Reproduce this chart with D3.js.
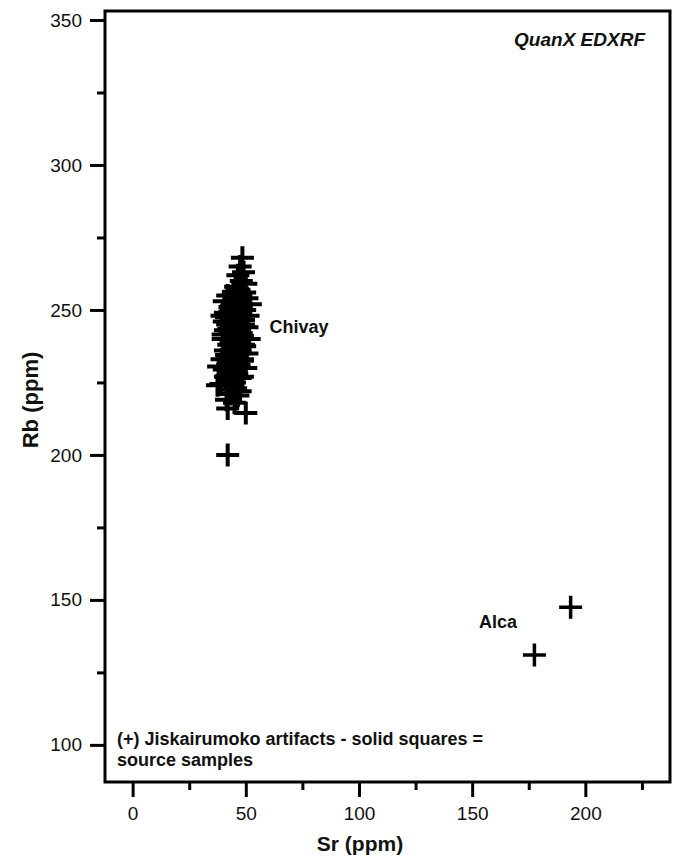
<!DOCTYPE html>
<html>
<head>
<meta charset="utf-8">
<script src="https://cdn.jsdelivr.net/npm/d3@7"></script>
<style>
html,body{margin:0;padding:0;background:#fff;}
svg{display:block;font-family:"Liberation Sans",Arial,sans-serif;}
</style>
</head>
<body>
<svg id="chart" width="675" height="859"></svg>
<script>
// Jiskairumoko artifacts near Chivay source: [Sr, Rb]
const chivaySr = [48.5,47.5,49,46.5,48,50,45.5,47,49.5,44.5,
  42,46,50.5,40.5,44,48,52,43,47,49.5,41,45,51,39.5,43.5,47.5,40.5,46,49,42,
  44.5,50.5,41,47,43,48.5,45.5,40,51.5,44,
  46,42.5,49,44.5,47.5,41,50.5,43,46,48.5,39.5,44,42,47,50,38,
  43.5,46,41,48.5,44,37.5,42.5,45.5,47.5,43,41.5,45,42,50,42,
  45,48,43,46.5,41.5,49,44,47,42.5,45.5,48,40,46,43.5,49.5,44.5,47,41.5,45,48.5,
  43,46,40.5,44,47.5,42,45,39,44.5,46.5];
const chivayRb = [268,265,263,262,260,259,258,257,256,256,
  255,254,254,253,252,252,252,251,250,250,249,249,248,248,247,247,246,246,245,245,
  244,244,243,243,242,241,241,240,240,240,
  239,238,238,237,236,236,235,234,234,233,233,232,231,231,230,230.5,
  229,228,227,227,226,224,224,223,222,221,219,218,216,214.5,200,
  253,251,249.5,248,247.5,246.5,245.5,244.5,243.5,242.5,242,241.5,239.5,239,237.5,236.5,235,234.5,233.5,232.5,
  231.5,230,229.5,228.5,226.5,225.5,225,224.5,222.5,220.5];
// Artifacts near Alca source
const alcaSr = [193.5, 177.5];
const alcaRb = [147.5, 131];

const xMajor = [0, 50, 100, 150, 200];
const xMinor = [25, 75, 125, 175, 225];
const yMajor = [100, 150, 200, 250, 300, 350];
const yMinor = [125, 175, 225, 275, 325];

const xTitle = "Sr (ppm)";
const yTitle = "Rb (ppm)";
const methodLabel = "QuanX EDXRF";
const groupLabels = [{name:"Chivay", sr:60.5, rb:242.2}, {name:"Alca", sr:153, rb:140.2}];
const noteLines = ["(+) Jiskairumoko artifacts - solid squares =", "source samples"];

const svg = d3.select("#chart");
const plot = {left:105, right:670, top:11, bottom:782};

const x = d3.scaleLinear().domain([-12.2, 237.4]).range([plot.left, plot.right]);
const y = d3.scaleLinear().domain([87.2, 353.1]).range([plot.bottom, plot.top]);

// axes
const yAx = svg.append("g").attr("transform", `translate(${plot.left},0)`)
  .call(d3.axisLeft(y).tickValues(yMajor).tickSize(15).tickPadding(8).tickFormat(d3.format("d")));
const yAxMin = svg.append("g").attr("transform", `translate(${plot.left},0)`)
  .call(d3.axisLeft(y).tickValues(yMinor).tickSize(8).tickFormat(""));
const xAx = svg.append("g").attr("transform", `translate(0,${plot.bottom})`)
  .call(d3.axisBottom(x).tickValues(xMajor).tickSize(15).tickPadding(10).tickFormat(d3.format("d")));
const xAxMin = svg.append("g").attr("transform", `translate(0,${plot.bottom})`)
  .call(d3.axisBottom(x).tickValues(xMinor).tickSize(8).tickFormat(""));

[yAx, yAxMin, xAx, xAxMin].forEach(g => {
  g.select(".domain").remove();
  g.selectAll("line").attr("stroke", "#000").attr("stroke-width", 3);
  g.selectAll("text").attr("font-size", 19).attr("fill", "#111")
    .attr("font-family", "Liberation Sans, Arial, sans-serif");
});

// frame
svg.append("rect")
  .attr("x", plot.left).attr("y", plot.top)
  .attr("width", plot.right - plot.left).attr("height", plot.bottom - plot.top)
  .attr("fill", "none").attr("stroke", "#000").attr("stroke-width", 3);

// markers
const plusPath = s => `M${-s},0H${s}M0,${-s}V${s}`;
const chivay = chivaySr.map((v, i) => ({sr: v, rb: chivayRb[i]}));
const alca = alcaSr.map((v, i) => ({sr: v, rb: alcaRb[i]}));

svg.append("g").selectAll("path").data(chivay).join("path")
  .attr("transform", d => `translate(${x(d.sr)},${y(d.rb)})`)
  .attr("d", plusPath(11.5))
  .attr("stroke", "#000").attr("stroke-width", 4).attr("fill", "none");

svg.append("g").selectAll("path").data(alca).join("path")
  .attr("transform", d => `translate(${x(d.sr)},${y(d.rb)})`)
  .attr("d", plusPath(11.5))
  .attr("stroke", "#000").attr("stroke-width", 3.5).attr("fill", "none");

// group labels
svg.append("g").selectAll("text").data(groupLabels).join("text")
  .attr("x", d => x(d.sr)).attr("y", d => y(d.rb))
  .attr("font-size", 18).attr("font-weight", "bold").attr("fill", "#111")
  .text(d => d.name);

// method label
svg.append("text").attr("x", 645).attr("y", 46)
  .attr("text-anchor", "end").attr("font-size", 19)
  .attr("font-weight", "bold").attr("font-style", "italic").attr("fill", "#111")
  .text(methodLabel);

// note
svg.append("g").selectAll("text").data(noteLines).join("text")
  .attr("x", 117).attr("y", (d, i) => 745 + i * 21)
  .attr("font-size", 18).attr("font-weight", "bold").attr("fill", "#111")
  .text(d => d);

// axis titles
svg.append("text").attr("x", 360).attr("y", 851)
  .attr("text-anchor", "middle").attr("font-size", 21).attr("font-weight", "bold").attr("fill", "#111")
  .text(xTitle);
svg.append("text").attr("transform", "translate(38,400) rotate(-90)")
  .attr("text-anchor", "middle").attr("font-size", 22).attr("font-weight", "bold").attr("fill", "#111")
  .text(yTitle);
</script>
</body>
</html>
